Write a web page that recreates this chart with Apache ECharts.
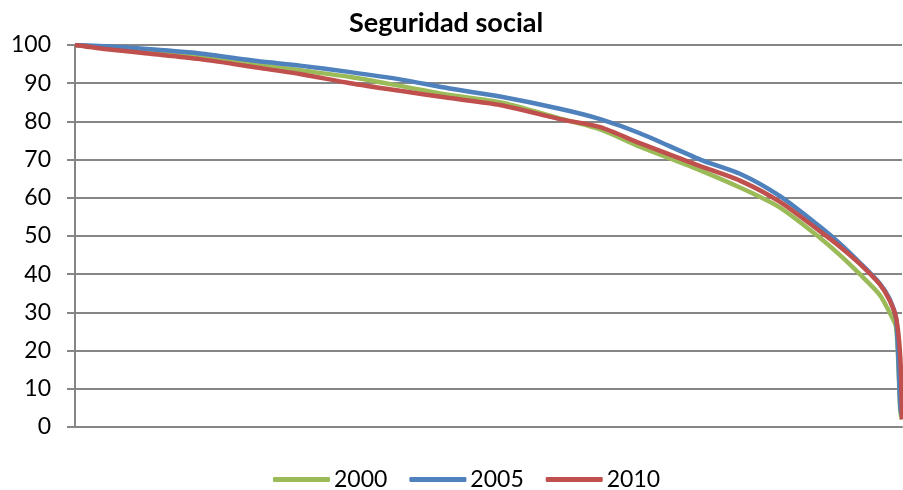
<!DOCTYPE html>
<html>
<head>
<meta charset="utf-8">
<title>Seguridad social</title>
<script src="https://cdn.jsdelivr.net/npm/echarts@6/dist/echarts.min.js"></script>
<style>
  html, body { margin: 0; padding: 0; background: #fff; }
  #chart { width: 903px; height: 490px; }
</style>
</head>
<body>
<div id="chart"></div>
<script>
// posición acumulada (% de la población), eje x sin etiquetas
const xPos = [0, 4.2, 9.1, 15.1, 22.0, 27.2, 33.3, 39.3, 45.3, 51.4, 58.6, 63.5, 68.3, 75.6, 80.4, 85.2, 90.1, 92.5, 94.9, 97.3, 98.5, 99.3, 99.8, 100];

const serie2000 = [100, 99.2, 98.4, 97.0, 94.9, 93.4, 91.6, 89.3, 86.9, 85.0, 80.8, 77.9, 73.4, 67.2, 62.7, 57.5, 49.5, 45.0, 40.0, 34.6, 30.0, 26.0, 4, 2];
const serie2005 = [100, 99.6, 98.9, 97.8, 95.8, 94.6, 92.9, 91.0, 88.6, 86.5, 83.3, 80.6, 76.9, 70.0, 66.3, 60.5, 52.4, 48.0, 43.0, 37.6, 33.5, 28.0, 5, 3];
const serie2010 = [100, 98.8, 97.7, 96.3, 94.1, 92.4, 90.0, 88.0, 86.1, 84.3, 80.6, 78.5, 74.3, 68.3, 64.5, 59.0, 51.2, 47.2, 42.7, 37.4, 33.2, 28.5, 18, 2];

const seriesNames = ["2000", "2005", "2010"];
const yTicks = [0, 10, 20, 30, 40, 50, 60, 70, 80, 90, 100];

const colors = ["#9BBB59", "#4F81BD", "#C0504D"];
const font = "Lato, 'Open Sans', sans-serif";

const chart = echarts.init(document.getElementById("chart"));

const pairs = (ys) => xPos.map((x, i) => [x, ys[i]]);

chart.setOption({
  backgroundColor: "#fff",
  animation: false,
  color: colors,
  title: {
    text: "Seguridad social",
    left: 344,
    top: 5,
    textStyle: { fontFamily: font, fontSize: 27, fontWeight: "bold", color: "#000" },
  },
  grid: {
    left: 75,
    right: 1,
    top: 45,
    bottom: 63,
  },
  legend: {
    data: seriesNames,
    bottom: -6,
    left: 268,
    itemWidth: 57,
    itemHeight: 5,
    itemGap: 22,
    icon: "roundRect",
    textStyle: { fontFamily: font, fontSize: 23, color: "#000", padding: [0, 0, 0, -1] },
  },
  xAxis: {
    type: "value",
    min: 0,
    max: 100,
    axisLabel: { show: false },
    axisTick: { show: false },
    splitLine: { show: false },
    axisLine: { show: true, lineStyle: { color: "#868686", width: 2 } },
  },
  yAxis: {
    type: "value",
    min: yTicks[0],
    max: yTicks[yTicks.length - 1],
    interval: 10,
    axisLine: { show: true, lineStyle: { color: "#868686", width: 2 } },
    axisTick: { show: true, length: 8, lineStyle: { color: "#868686", width: 2 } },
    axisLabel: { fontFamily: font, fontSize: 23, color: "#000", margin: 24 },
    splitLine: { show: true, lineStyle: { color: "#868686", width: 2 } },
  },
  series: [serie2000, serie2005, serie2010].map((ys, i) => ({
    name: seriesNames[i],
    type: "line",
    data: pairs(ys),
    smooth: 0.25,
    showSymbol: false,
    symbol: "none",
    lineStyle: { width: 4.5, color: colors[i] },
  })),
});
</script>
</body>
</html>
